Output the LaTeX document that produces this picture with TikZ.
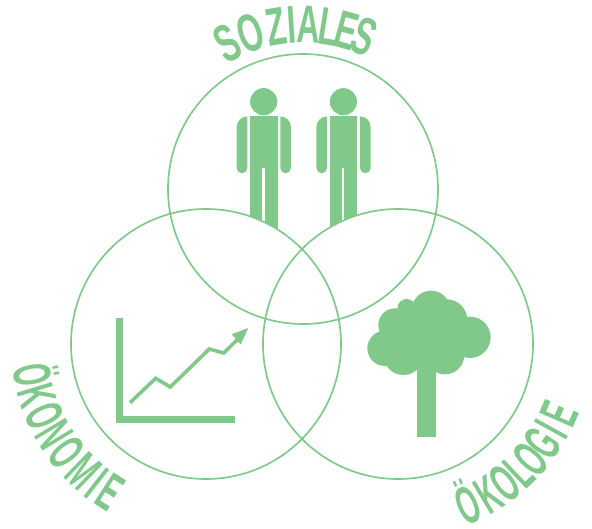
\documentclass[tikz,border=0pt]{standalone}
\usepackage{fontspec}
\setmainfont{Liberation Sans}
\definecolor{leaf}{RGB}{128,201,139}
\tikzset{
  ring/.style={draw=leaf,line width=1.25pt},
  letter/.style={text=leaf,anchor=base,inner sep=0pt,font=\bfseries\fontsize{40}{40}\selectfont},
  trend/.style={draw=leaf,line width=2.7pt,line join=miter}
}
\newcommand{\thinletter}[1]{\scalebox{.52}[1]{#1}}
\newcommand{\wideletter}[1]{\scalebox{.6}[1]{#1}}
\newcommand{\person}[1]{%
  \begin{scope}[shift={(#1,0)}]
    \fill[leaf] (263.7,101.7) circle (13.6);
    \fill[leaf] (250,116.3) rectangle (277.7,167.7);
    \fill[leaf] (250,167.7) rectangle (262.3,240);
    \fill[leaf] (264.7,167.7) rectangle (277.7,240);
    \fill[leaf] (247.3,116.3) -- (247.3,168) arc[start angle=0,end angle=180,radius=5.3] -- (236.7,127) arc[start angle=180,end angle=270,radius=10.6] -- cycle;
    \fill[leaf] (280.3,116.3) -- (280.3,168) arc[start angle=180,end angle=0,radius=5.3] -- (290.9,127) arc[start angle=0,end angle=-90,radius=10.6] -- cycle;
  \end{scope}}
\begin{document}
\begin{tikzpicture}[x=0.75pt,y=-0.75pt]
\useasboundingbox (0,0) rectangle (592,528);
\person{0}
\person{79.7}
% white discs cut the legs along the lower circles
\fill[white] (206,344) circle (135);
\fill[white] (398,344) circle (135);
\draw[ring] (303,189) circle (135);
\draw[ring] (206,344) circle (135);
\draw[ring] (398,344) circle (135);
% chart
\fill[leaf] (116,318.3) rectangle (123.3,422.7);
\fill[leaf] (116,415.7) rectangle (235,422.7);
\draw[trend] (130,402.7) -- (155.7,378.3) -- (170.3,387) -- (209.3,349) -- (223.7,353) -- (238,339);
\fill[leaf] (248.3,328) -- (231.7,334.3) -- (240.7,344.3) -- cycle;
% tree
\fill[leaf] (417,360) rectangle (436,437.3);
\foreach \cx/\cy/\r in {243/90/58,105/205/53,135/135/50,170/85/28,160/225/60,285/225/58,360/172/62,290/120/62,230/170/90}
  \fill[leaf] ({350+\cx/3},{280+\cy/3}) circle ({\r/3});
% labels
\foreach \ch/\a [count=\n] in {S/-27.5,O/-18.5,Z/-9.5,I/-3.8,A/2,L/9,E/15.5,S/22}
  \node[letter,rotate={-\a}] (top\n) at ({303+146*sin(\a)},{189-146*cos(\a)}) {\wideletter{\ch}};
\foreach \ch/\a [count=\n] in {Ö/10,K/17,O/24,N/31,O/38,M/46,I/52,E/57}
  \node[letter,rotate={\a-90}] (left\n) at ({206-195*cos(\a)},{344+195*sin(\a)}) {\thinletter{\ch}};
\foreach \ch/\a [count=\n] in {Ö/23.5,K/31,O/37.5,L/43.5,O/49,G/55.5,I/61,E/66.5}
  \node[letter,rotate={\a}] (right\n) at ({398+194*sin(\a)},{344+194*cos(\a)}) {\thinletter{\ch}};
\end{tikzpicture}
\end{document}
